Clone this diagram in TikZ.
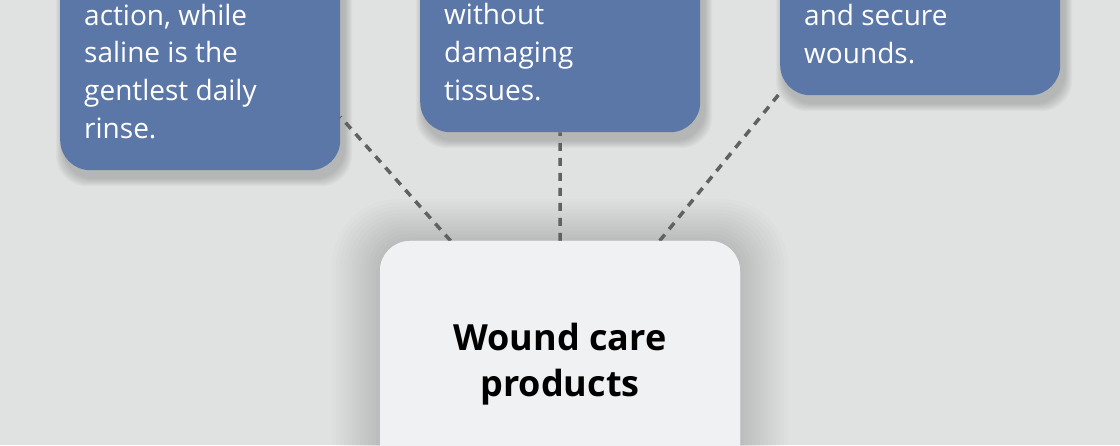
\documentclass[tikz,border=0pt]{standalone}
\usepackage{fontspec}
\setmainfont{Open Sans}
\usetikzlibrary{positioning}
\definecolor{bgcol}{HTML}{DFE2E1}
\definecolor{cardblue}{HTML}{5B77A8}
\definecolor{hubfill}{HTML}{F0F1F2}
\definecolor{linkgray}{HTML}{616161}

\begin{document}
\begin{tikzpicture}[x=1pt, y=1pt,
    card/.style={fill=cardblue, rounded corners=30pt, minimum width=280pt, inner sep=0pt, anchor=north west},
    cardtext/.style={text=white, font=\fontsize{28}{37.7}\selectfont, align=left, anchor=base west, inner sep=0pt},
    hub/.style={fill=hubfill, rounded corners=30pt, minimum width=360pt, minimum height=246pt, font=\fontsize{36}{45.7}\selectfont\bfseries, align=center},
    link/.style={draw=linkgray, line width=3.5pt, dash pattern=on 8pt off 7pt}]
    \def\toprow{697}
    \useasboundingbox[fill=bgcol] (0,0) rectangle (1120,445);
    \clip (0,0) rectangle (1120,445);

    % cards with their soft shadows
    \foreach \name/\x/\h in {rinse/60/422, debride/420/384, secure/780/347} {
        \foreach \k in {1,...,8}
            \fill[black, opacity=0.025, rounded corners=30pt] (\x+4-\k, \toprow-8+\k) rectangle ++(280+2*\k, -\h-2*\k);
        \node[card, minimum height=\h pt] (\name) at (\x, \toprow) {};
    }
    \node[cardtext] (rinsetext) at ([shift={(24,32)}]rinse.south west) {action, while\\saline is the\\gentlest daily\\rinse.};
    \node[cardtext] (debridetext) at ([shift={(24,32)}]debride.south west) {without\\damaging\\tissues.};
    \node[cardtext] (securetext) at ([shift={(24,32)}]secure.south west) {and secure\\wounds.};

    % glow round the hub
    \foreach \k in {1,...,12} {
        \pgfmathsetmacro{\rr}{30+3*\k}
        \fill[black, opacity=0.011, rounded corners=\rr pt] (380-4*\k, 204+3.5*\k) rectangle (740+4*\k, -42-4*\k);
    }
    \node[hub] (hub) at (560, 81) {Wound care\\products};

    \draw[link] (hub) -- (rinse);
    \draw[link] (hub) -- (debride);
    \draw[link] (hub) -- (secure);
    \node[hub] at (hub) {Wound care\\products};
\end{tikzpicture}
\end{document}
